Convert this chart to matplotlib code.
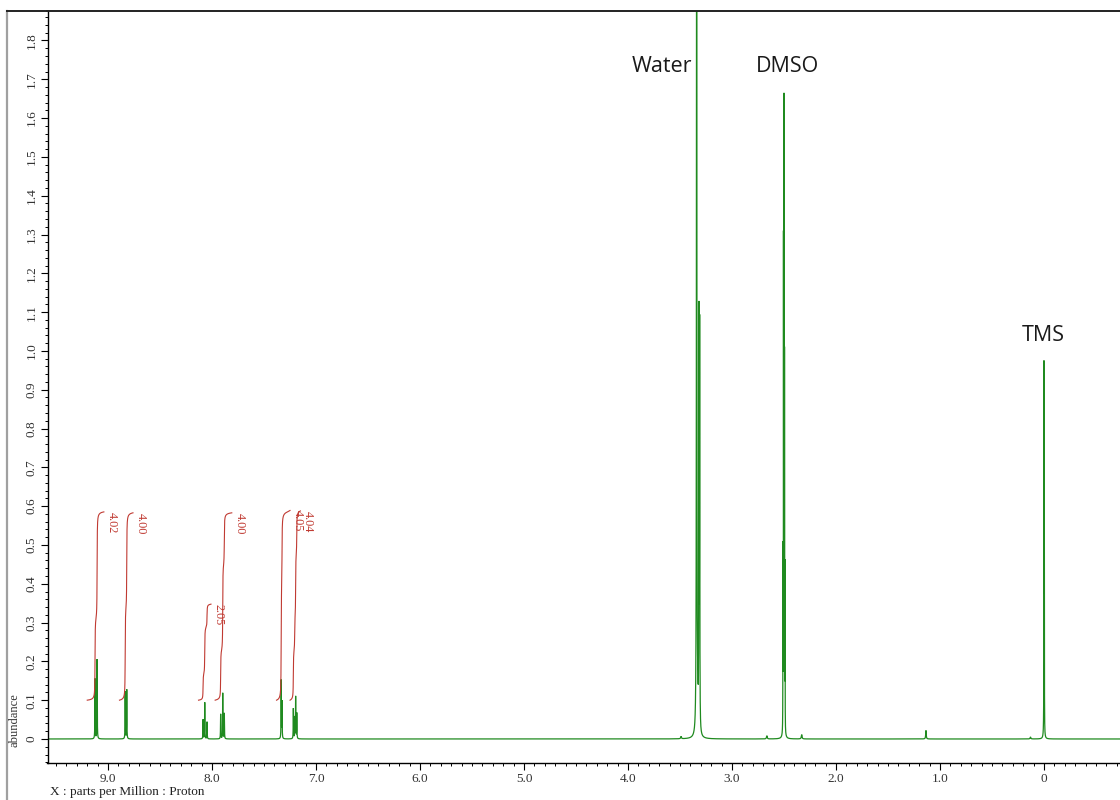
import numpy as np
import matplotlib
matplotlib.use("Agg")
import matplotlib.pyplot as plt
from matplotlib.ticker import MultipleLocator, FuncFormatter
from matplotlib.lines import Line2D

# ---------------- data ----------------
# peak list: chemical shift (ppm), amplitude (abundance), half width (ppm)
peak_ppm = [9.125, 9.105,
            8.835, 8.820,
            8.086, 8.070, 8.048,
            7.917, 7.897, 7.882,
            7.335, 7.327,
            7.218, 7.205, 7.196, 7.185,
            3.490, 3.340, 3.318, 3.311, 3.330,
            2.665, 2.510, 2.505, 2.500, 2.495, 2.490, 2.500, 2.330,
            1.135, 0.130, 0.000, -0.003, 0.001]
peak_height = [0.155, 0.205,
               0.122, 0.127,
               0.050, 0.094, 0.044,
               0.064, 0.118, 0.066,
               0.150, 0.095,
               0.078, 0.055, 0.108, 0.066,
               0.006, 2.500, 1.050, 1.030, 0.060,
               0.008, 0.460, 1.240, 1.585, 0.940, 0.420, 0.020, 0.011,
               0.022, 0.005, 0.893, 0.700, 0.040]
peak_hwhm = [0.0015, 0.0015,
             0.0015, 0.0015,
             0.0015, 0.0015, 0.0015,
             0.0015, 0.0015, 0.0015,
             0.0015, 0.0015,
             0.0015, 0.0015, 0.0015, 0.0015,
             0.004, 0.0022, 0.0015, 0.0015, 0.005,
             0.004, 0.0008, 0.0008, 0.0008, 0.0008, 0.0008, 0.006, 0.004,
             0.003, 0.004, 0.0008, 0.0008, 0.003]

# integrals: start / end (ppm) and integrated values
int_start = [9.20, 8.89, 8.13, 7.97, 7.38, 7.25]
int_end = [9.04, 8.76, 8.01, 7.81, 7.25, 7.15]
int_value = [4.02, 4.00, 2.05, 4.00, 4.05, 4.04]
int_base = 0.10
int_scale = 0.1207  # abundance units per integral unit

# solvent / reference labels
label_text = ["Water", "DMSO", "TMS"]
label_ppm = [3.385, 2.47, 0.01]
label_y = [1.732, 1.732, 1.041]
label_ha = ["right", "center", "center"]

x_ticks = [9, 8, 7, 6, 5, 4, 3, 2, 1, 0]

# ---------------- build spectrum ----------------
ppm = np.arange(9.62, -0.76, -0.0002)
spec = np.zeros_like(ppm)
for c, h, w in zip(peak_ppm, peak_height, peak_hwhm):
    spec += h / (1.0 + ((ppm - c) / w) ** 2)

green = "#1f8a1f"
red = "#c03a32"

fig = plt.figure(figsize=(11.2, 8.0), dpi=100)
ax = fig.add_axes([47.5 / 1120, 1 - 763 / 800, 1 - 47.5 / 1120, (763 - 11) / 800])
ax.plot(ppm, spec, color=green, lw=0.9, solid_joinstyle="miter")

# integral curves
for s, e, v in zip(int_start, int_end, int_value):
    m = (ppm <= s) & (ppm >= e)
    xs = ppm[m]
    cum = np.cumsum(spec[m])
    cum = (cum - cum[0]) / (cum[-1] - cum[0])
    top = int_base + v * int_scale
    ys = int_base + cum * (top - int_base)
    ax.plot(xs, ys, color=red, lw=0.8)
    ax.text(e - 0.075, top, f"{v:.2f}", rotation=270, ha="center", va="top",
            color=red, fontsize=8.8, family="Liberation Serif")

for t, xp, yp, ha in zip(label_text, label_ppm, label_y, label_ha):
    ax.text(xp, yp, t, ha=ha, va="center", fontsize=15.5, family="Open Sans",
            color="#1a1a1a")

ax.set_xlim(9.582, -0.731)
ax.set_ylim(-0.0619, 1.876)

ax.set_xticks(x_ticks)
ax.xaxis.set_minor_locator(MultipleLocator(0.1))
ax.yaxis.set_major_locator(MultipleLocator(0.1))
ax.yaxis.set_minor_locator(MultipleLocator(0.02))
fmt = FuncFormatter(lambda v, p: "0" if abs(v) < 1e-9 else f"{v:.1f}")
ax.xaxis.set_major_formatter(fmt)
ax.yaxis.set_major_formatter(fmt)

ax.spines["right"].set_visible(False)
for sp in ["left", "top", "bottom"]:
    ax.spines[sp].set_color("black")
    ax.spines[sp].set_linewidth(1.0)
ax.spines["top"].set_linewidth(1.4)
ax.spines["top"].set_color("#222222")

ax.tick_params(axis="both", which="major", direction="out", length=5, width=0.8,
               colors="black", labelsize=9.5)
ax.tick_params(axis="both", which="minor", direction="out", length=2.5, width=0.7,
               colors="black")
ax.tick_params(axis="y", which="major", pad=2, labelrotation=90)
ax.tick_params(axis="x", which="major", pad=2)
for lab in ax.get_xticklabels() + ax.get_yticklabels():
    lab.set_family("Liberation Serif")
    lab.set_color("#333333")
for lab in ax.get_yticklabels():
    lab.set_va("center")

fig.text(15 / 1120, 1 - 720 / 800, "abundance", rotation=90, ha="center", va="center",
         fontsize=9, family="Liberation Serif", color="#333333")
fig.text(50 / 1120, 1 - 792 / 800, "X : parts per Million : Proton", ha="left", va="center",
         fontsize=9.5, family="Liberation Serif", color="#222222")

# outer frame lines
fig.add_artist(Line2D([7 / 1120, 7 / 1120], [0, 1 - 11 / 800], transform=fig.transFigure,
                      color="#a0a0a0", lw=1.6))
fig.add_artist(Line2D([7 / 1120, 48 / 1120], [1 - 11 / 800, 1 - 11 / 800],
                      transform=fig.transFigure, color="#222222", lw=1.4))

fig.savefig("out.png", dpi=100)
